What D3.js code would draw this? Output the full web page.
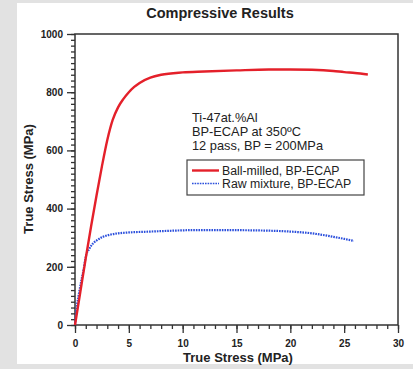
<!DOCTYPE html>
<html>
<head>
<meta charset="utf-8">
<script src="https://cdn.jsdelivr.net/npm/d3@7"></script>
<style>
  body { margin: 0; background: #e2e2e2; }
  svg { display: block; font-family: "Liberation Sans", Arial, sans-serif; }
</style>
</head>
<body>
<div id="chart"></div>
<script>
// strain (x) and stress (y)
const ballX = [0, 0.5, 1, 1.5, 2, 2.5, 3, 3.5, 4, 4.5, 5, 5.5, 6, 7, 8, 10, 12, 15, 18, 20, 22, 24, 25, 26, 27.2];
const ballY = [0, 115, 230, 340, 445, 545, 636, 705, 748, 777, 800, 818, 832, 850, 860, 868, 871, 875, 878, 878, 877, 873, 869, 866, 861];
const rawX = [0, 0.2, 0.4, 0.6, 0.8, 1, 1.3, 1.7, 2, 2.6, 3, 4, 5, 7, 9, 11, 14, 17, 20, 22, 24, 25, 25.9];
const rawY = [0, 70, 115, 155, 190, 235, 260, 281, 290, 303, 308, 315, 318, 321, 324, 326, 326, 325, 321, 315, 303, 296, 289];
const xTicks = [0, 5, 10, 15, 20, 25, 30];
const yTicks = [0, 200, 400, 600, 800, 1000];
const notes = ["Ti-47at.%Al", "BP-ECAP at 350ºC", "12 pass, BP = 200MPa"];
const legendNames = ["Ball-milled, BP-ECAP", "Raw mixture, BP-ECAP"];

const width = 413, height = 369;
const m = { left: 75, right: 398, top: 34, bottom: 325 };

const svg = d3.select('#chart').append('svg')
  .attr('width', width)
  .attr('height', height);

// grey page with white panel
svg.append('rect').attr('width', width).attr('height', height).attr('fill', '#e2e2e2');
svg.append('rect').attr('x', 17).attr('y', 3).attr('width', 396).attr('height', 361).attr('fill', '#fff');

const x = d3.scaleLinear().domain([0, 30]).range([m.left, m.right]);
const y = d3.scaleLinear().domain([0, 1000]).range([m.bottom, m.top]);

// minor ticks
svg.append('g')
  .attr('transform', `translate(${m.left},0)`)
  .call(d3.axisLeft(y).tickValues(d3.range(0, 1001, 20)).tickSize(4).tickFormat(''))
  .call(g => g.select('.domain').remove());
svg.append('g')
  .attr('transform', `translate(0,${m.bottom})`)
  .call(d3.axisBottom(x).tickValues(d3.range(0, 31, 1)).tickSize(4).tickFormat(''))
  .call(g => g.select('.domain').remove());

// major ticks
svg.append('g')
  .attr('transform', `translate(${m.left},0)`)
  .call(d3.axisLeft(y).tickValues(yTicks).tickSize(8).tickPadding(4).tickFormat(d3.format('d')))
  .call(g => g.select('.domain').remove())
  .selectAll('text').attr('font-size', 10).attr('font-weight', 'bold').attr('fill', '#222')
  .attr('font-family', '"Liberation Sans", Arial, sans-serif');
svg.append('g')
  .attr('transform', `translate(0,${m.bottom})`)
  .call(d3.axisBottom(x).tickValues(xTicks).tickSize(8).tickPadding(7))
  .call(g => g.select('.domain').remove())
  .selectAll('text').attr('font-size', 10).attr('font-weight', 'bold').attr('fill', '#222')
  .attr('font-family', '"Liberation Sans", Arial, sans-serif');

svg.selectAll('.tick line').attr('stroke', '#333').attr('stroke-width', 1.3);

// frame
svg.append('rect')
  .attr('x', m.left).attr('y', m.top)
  .attr('width', m.right - m.left).attr('height', m.bottom - m.top)
  .attr('fill', 'none').attr('stroke', '#333').attr('stroke-width', 1.5);

const line = d3.line().curve(d3.curveMonotoneX)
  .x(d => x(d[0])).y(d => y(d[1]));

svg.append('path')
  .datum(rawX.map((v, i) => [v, rawY[i]]))
  .attr('fill', 'none').attr('stroke', '#2b4fdc').attr('stroke-width', 2.2)
  .attr('stroke-dasharray', '1.6,1')
  .attr('d', line);

svg.append('path')
  .datum(ballX.map((v, i) => [v, ballY[i]]))
  .attr('fill', 'none').attr('stroke', '#e4202a').attr('stroke-width', 2.4)
  .attr('d', line);

// title and axis labels
svg.append('text')
  .attr('x', 220).attr('y', 18)
  .attr('text-anchor', 'middle').attr('font-size', 14.5).attr('font-weight', 'bold').attr('fill', '#222')
  .text('Compressive Results');

svg.append('text')
  .attr('x', 238).attr('y', 362)
  .attr('text-anchor', 'middle').attr('font-size', 13).attr('font-weight', 'bold').attr('fill', '#222')
  .text('True Stress (MPa)');

svg.append('text')
  .attr('transform', 'translate(33,179) rotate(-90)')
  .attr('text-anchor', 'middle').attr('font-size', 13).attr('font-weight', 'bold').attr('fill', '#222')
  .text('True Stress (MPa)');

// notes
svg.append('g').selectAll('text')
  .data(notes)
  .join('text')
  .attr('x', 192).attr('y', (d, i) => 122 + i * 14.2)
  .attr('font-size', 12.8).attr('fill', '#222')
  .text(d => d);

// legend
const legend = svg.append('g');
legend.append('rect')
  .attr('x', 187).attr('y', 160).attr('width', 177).attr('height', 35)
  .attr('fill', '#fff').attr('stroke', '#444').attr('stroke-width', 1.2);
const colors = ['#e4202a', '#2b4fdc'];
const dashes = [null, '1.6,1'];
legendNames.forEach((name, i) => {
  const cy = 170.5 + i * 13;
  legend.append('line')
    .attr('x1', 192).attr('x2', 219).attr('y1', cy).attr('y2', cy)
    .attr('stroke', colors[i]).attr('stroke-width', i ? 1.6 : 2.4)
    .attr('stroke-dasharray', dashes[i]);
  legend.append('text')
    .attr('x', 222).attr('y', cy + 4.2)
    .attr('font-size', 12.3).attr('fill', '#222')
    .text(name);
});
</script>
</body>
</html>
